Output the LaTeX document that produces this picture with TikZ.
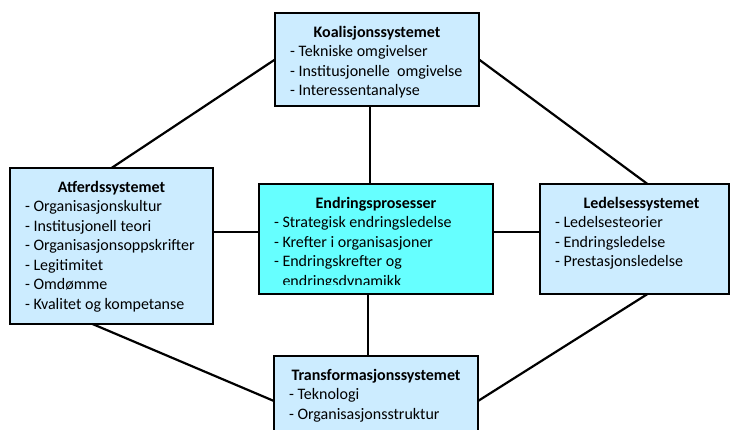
\documentclass[tikz,border=0pt]{standalone}
\usepackage{fontspec}
\setmainfont{Carlito}

\definecolor{sysblue}{RGB}{204,236,255}
\definecolor{coreblue}{RGB}{102,255,255}

% box text: bold centred title, then the items
\newcommand{\sysbox}[4]{\parbox[c][#2][t]{#1}{\fontsize{16}{19.5}\selectfont
  \centering\rule{0pt}{24pt}\textbf{#3}\par
  \raggedright\leftskip=15pt #4}}

\begin{document}
\begin{tikzpicture}[x=1pt, y=-1pt,
    system/.style={draw, line width=2.8pt, fill=sysblue, inner sep=0pt, outer sep=0pt, anchor=north west},
    link/.style={line width=2.2pt}]
    \useasboundingbox (0,0) rectangle (731,429);

    \node[system] (koalisjon) at (275,13) {\sysbox{204pt}{93pt}{Koalisjonssystemet}{- Tekniske omgivelser\par - Institusjonelle~ omgivelse\par - Interessentanalyse}};
    \node[system] (atferd) at (10,168) {\sysbox{203pt}{156pt}{Atferdssystemet}{- Organisasjonskultur\par - Institusjonell teori\par - Organisasjonsoppskrifter\par - Legitimitet\par - Omdømme\par - Kvalitet og kompetanse}};
    \node[system, fill=coreblue] (prosess) at (259,184) {\sysbox{234pt}{110pt}{Endringsprosesser}{- Strategisk endringsledelse\par - Krefter i organisasjoner\par - Endringskrefter og\par \phantom{- }endringsdynamikk}};
    \node[system] (ledelse) at (540,184) {\sysbox{189pt}{110pt}{\hspace*{14pt}Ledelsessystemet}{- Ledelsesteorier\par - Endringsledelse\par - Prestasjonsledelse}};
    \node[system] (transform) at (274,356) {\sysbox{204pt}{90pt}{Transformasjonssystemet}{- Teknologi\par - Organisasjonsstruktur}};

    % last line of the core box is cut off
    \fill[coreblue] ([shift={(1.4pt,1.4pt)}]prosess.south west) rectangle ([shift={(-1.4pt,9pt)}]prosess.south east);

    \draw[link] (atferd.north) -- (koalisjon.west);
    \draw[link] (koalisjon.east) -- ([xshift=13pt]ledelse.north);
    \draw[link] ([xshift=13pt]ledelse.south) -- (transform.east);
    \draw[link] ([xshift=-19pt]atferd.south) -- (transform.west);

    \draw[link] ([xshift=-7pt]koalisjon.south) -- ([xshift=-7pt]koalisjon.south |- prosess.north);
    \draw[link] ([xshift=-8pt]prosess.south) -- ([xshift=-8pt]prosess.south |- transform.north);
    \draw[link] ([yshift=7pt]prosess.west) -- ([yshift=7pt]prosess.west -| atferd.east);
    \draw[link] ([yshift=7pt]prosess.east) -- ([yshift=7pt]prosess.east -| ledelse.west);
\end{tikzpicture}
\end{document}
